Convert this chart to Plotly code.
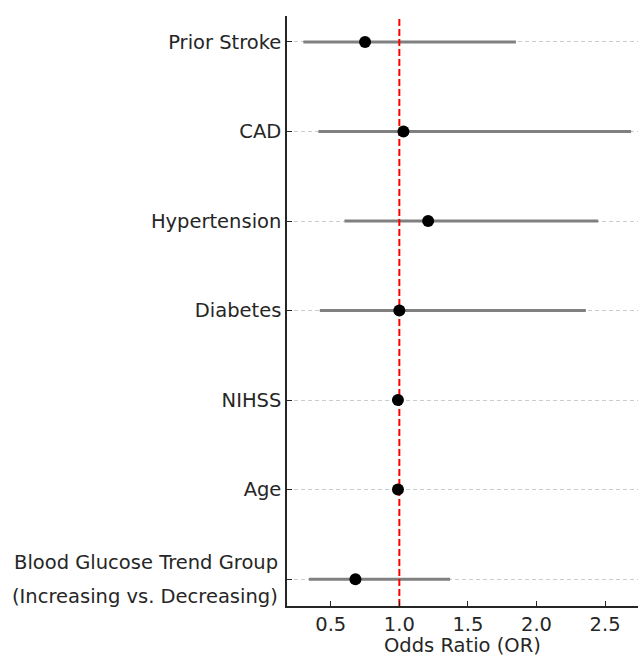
import plotly.graph_objects as go

variables = ["Blood Glucose Trend Group (Increasing vs. Decreasing)", "Age", "NIHSS",
             "Diabetes", "Hypertension", "CAD", "Prior Stroke"]
odds_ratio = [0.68, 0.99, 0.99, 1.00, 1.21, 1.03, 0.75]
ci_lower = [0.34, 0.98, 0.95, 0.42, 0.60, 0.41, 0.30]
ci_upper = [1.37, 1.01, 1.02, 2.36, 2.45, 2.69, 1.85]
x_ticks = [0.5, 1.0, 1.5, 2.0, 2.5]

ypos = list(range(len(variables)))
tick_text = ["" if i == 0 else v for i, v in enumerate(variables)]

FONT = "DejaVu Sans"
FS = 19.5
TXT = "#262626"
fig = go.Figure()

# CI lines
xs, ys = [], []
for y, lo, hi in zip(ypos, ci_lower, ci_upper):
    xs += [lo, hi, None]
    ys += [y, y, None]
fig.add_trace(go.Scatter(x=xs, y=ys, mode="lines",
                         line=dict(color="rgb(128,128,128)", width=3),
                         hoverinfo="skip", showlegend=False))
# reference line
fig.add_trace(go.Scatter(x=[1, 1], y=[-0.3, 6.3], mode="lines",
                         line=dict(color="red", width=2, dash="7px,3px"),
                         hoverinfo="skip", showlegend=False))
# points
fig.add_trace(go.Scatter(x=odds_ratio, y=ypos, mode="markers",
                         marker=dict(color="black", size=12),
                         showlegend=False))

# two-line label for first category
fig.add_annotation(x=0, xref="paper", y=0, yref="y", xanchor="right", xshift=-7,
                   yshift=17, text="Blood Glucose Trend Group", showarrow=False,
                   font=dict(family=FONT, size=FS, color=TXT))
fig.add_annotation(x=0, xref="paper", y=0, yref="y", xanchor="right", xshift=-7,
                   yshift=-17, text="(Increasing vs. Decreasing)", showarrow=False,
                   font=dict(family=FONT, size=FS, color=TXT))
# x-axis title
fig.add_annotation(x=0.5, xref="paper", y=0, yref="paper", yanchor="middle",
                   yshift=-39, text="Odds Ratio (OR)", showarrow=False,
                   font=dict(family=FONT, size=FS, color=TXT))

fig.update_layout(
    width=638, height=656,
    margin=dict(l=287, r=0, t=16, b=50),
    plot_bgcolor="white", paper_bgcolor="white",
    font=dict(family=FONT, size=FS, color=TXT),
    xaxis=dict(range=[0.181, 2.74], tickvals=x_ticks,
               ticktext=[f"{v:.1f}" for v in x_ticks],
               showgrid=False, zeroline=False,
               showline=True, linecolor=TXT, linewidth=1.5,
               ticks="inside", ticklen=5, tickcolor=TXT, tickwidth=1.2),
    yaxis=dict(range=[-0.3, 6.29], tickvals=ypos, ticktext=tick_text,
               showgrid=True, gridcolor="#cccccc", griddash="4px,3px", gridwidth=1,
               zeroline=False,
               showline=True, linecolor=TXT, linewidth=1.5,
               ticks="inside", ticklen=5, tickcolor=TXT, tickwidth=1.2),
)

fig.write_html("out.html", config={"displayModeBar": False},
               post_script="document.body.style.margin='0';document.body.style.overflow='hidden';")
